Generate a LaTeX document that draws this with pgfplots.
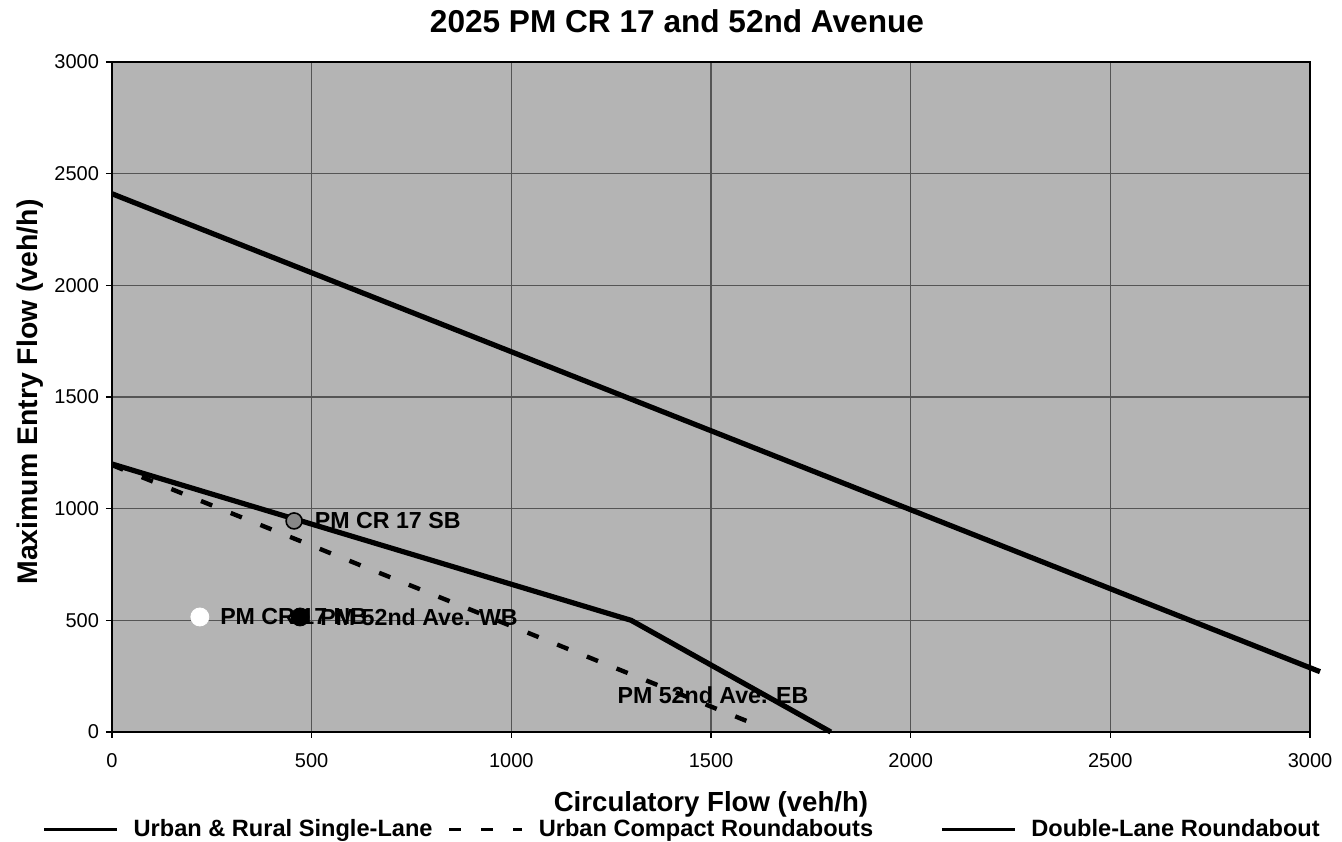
\documentclass[border=0pt]{standalone}
\usepackage{pgfplots}
\pgfplotsset{compat=1.18}
\usepackage{fontspec}
\setmainfont{Liberation Sans}
\definecolor{plotbg}{RGB}{180,180,180}
\definecolor{gridc}{RGB}{85,85,85}
\begin{document}
\begin{tikzpicture}
\begin{axis}[
  name=ax,
  scale only axis,
  width=599pt, height=335pt,
  xmin=0, xmax=3000, ymin=0, ymax=3000,
  enlargelimits=false,
  clip=false,
  xtick={0,500,...,3000},
  ytick={0,500,...,3000},
  /pgf/number format/assume math mode=true,
  /pgf/number format/1000 sep={},
  tick label style={font=\fontsize{10pt}{12pt}\selectfont},
  xticklabel style={yshift=-4pt},
  tick align=outside,
  major tick length=3pt,
  tick style={black, line width=0.6pt},
  xtick pos=bottom, ytick pos=left,
  axis line style={black, line width=0.8pt},
  grid=major,
  major grid style={gridc, line width=0.7pt},
  axis background/.style={fill=plotbg},
  title={2025 PM CR 17 and 52nd Avenue},
  title style={font=\bfseries\fontsize{15.8pt}{18pt}\selectfont, at={(axis description cs:0.4716,1)}, anchor=base, yshift=8.5pt},
  xlabel={Circulatory Flow (veh/h)},
  xlabel style={font=\bfseries\fontsize{13.8pt}{16pt}\selectfont, at={(axis description cs:0.5,0)}, anchor=base, yshift=-40pt},
  ylabel={Maximum Entry Flow (veh/h)},
  ylabel style={font=\bfseries\fontsize{14.2pt}{16pt}\selectfont, at={(axis description cs:-0.0618,0.5075)}, anchor=base},
  legend columns=3,
  legend style={draw=none, fill=none, inner sep=0pt,
    at={(axis description cs:-0.0584,-0.146)}, anchor=west,
    font=\bfseries\fontsize{11.8pt}{14pt}\selectfont,
    /tikz/every odd column/.append style={column sep=7.5pt},
    /tikz/every even column/.append style={column sep=7.5pt},
    nodes={inner sep=0pt}},
  legend image code/.code={\draw[#1, line width=1.6pt] (0pt,0pt) -- (36.5pt,0pt);},
  every node near coord/.append style={font=\bfseries\fontsize{11.6pt}{14pt}\selectfont, anchor=west, inner sep=0pt, xshift=10pt, text=black},
]
% Urban & Rural Single-Lane
\addplot[black, line width=2.6pt, line join=round] coordinates {(0,1200) (1300,500) (1800,0)};
\addlegendentry{Urban \& Rural Single-Lane}
% Urban Compact
\addplot[black, line width=2.2pt, dash pattern=on 6pt off 10pt] coordinates {(0,1195) (1630,20)};
\addlegendentry{Urban Compact Roundabouts\rule{26pt}{0pt}}
% Double-Lane
\addplot[black, line width=2.6pt] coordinates {(0,2410) (3025,270)};
\addlegendentry{Double-Lane Roundabout}
% points
\addplot[only marks, mark=*, mark size=4pt, mark options={fill=plotbg!75!black, draw=black, line width=0.8pt},
  nodes near coords, point meta=explicit symbolic, forget plot] coordinates {(456,945) [PM CR 17 SB]};
\addplot[only marks, mark=*, mark size=4.5pt, mark options={fill=white, draw=white},
  nodes near coords, point meta=explicit symbolic, forget plot] coordinates {(220,515) [PM CR 17 NB]};
\addplot[only marks, mark=*, mark size=4.5pt, mark options={fill=black, draw=black},
  nodes near coords, point meta=explicit symbolic, forget plot] coordinates {(471,515) [PM 52nd Ave. WB]};
\addplot[only marks, mark=none,
  nodes near coords, point meta=explicit symbolic, forget plot] coordinates {(1215,166) [PM 52nd Ave. EB]};
\end{axis}
\pgfresetboundingbox
\path[use as bounding box] ([xshift=-56pt,yshift=-55pt]ax.south west) rectangle ([xshift=16pt,yshift=31pt]ax.north east);
\end{tikzpicture}
\end{document}
